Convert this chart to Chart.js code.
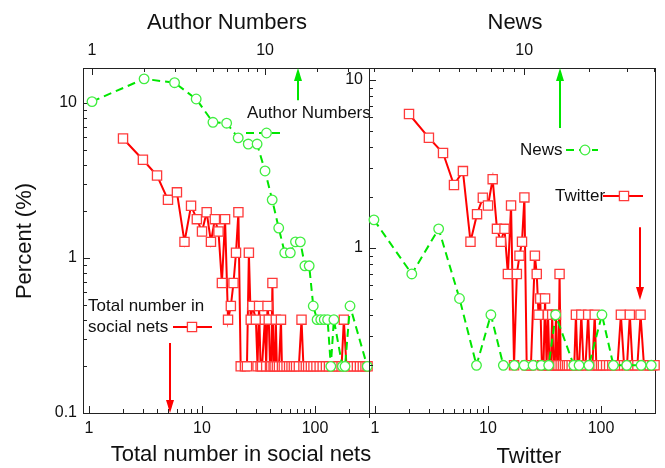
<!DOCTYPE html>
<html><head><meta charset="utf-8">
<script src="https://cdn.jsdelivr.net/npm/chart.js@4/dist/chart.umd.min.js"></script>
<style>
html,body{margin:0;padding:0;background:#fff;}
#wrap{position:relative;width:665px;height:468px;overflow:hidden;}
canvas{position:absolute;left:0;top:0;}
</style></head><body>
<div id="wrap"><canvas id="cL" width="665" height="468"></canvas><canvas id="cR" width="665" height="468"></canvas></div>
<script>
// ---------- data (percent) ----------
// Left panel: Total number in social nets (bottom axis)
const totalX = [2,3,4,5,6,7,8,9,10,11,12,13,14,15,16,17,18,19,20,21,22,24,25,26,27,28,30,31,32,33,34,36,37,38,39,40,41,42,43,44,45,46,48,50,51,53,56,59,62,65,68,72,76,79,83,87,92,97,103,110,117,125,133,142,152,162,172,180,190,205,220,235,250,265,280,292];
const totalY = [5.9,4.3,3.4,2.37,2.65,1.27,2.17,1.78,1.48,1.97,1.27,1.78,1.48,0.69,1.78,0.40,0.49,0.69,1.08,1.97,0.2,0.2,0.2,1.08,0.4,0.49,0.4,0.2,0.49,0.2,0.2,0.4,0.2,0.49,0.4,0.2,0.2,0.69,0.2,0.2,0.4,0.2,0.2,0.4,0.2,0.2,0.2,0.2,0.2,0.2,0.2,0.2,0.4,0.2,0.2,0.2,0.2,0.2,0.2,0.2,0.2,0.2,0.2,0.2,0.2,0.2,0.2,0.4,0.2,0.2,0.2,0.2,0.2,0.2,0.2,0.2];
// Left panel: Author Numbers (top axis)
const authorX = [1,2,3,4,5,6,7,8,9,10,11,12,13,14,15,16,17,18,19,20,21,22,23,24,25,28,29,31,39];
const authorY = [10.2,14.3,13.5,10.6,7.5,7.4,5.95,5.43,5.43,3.64,2.37,1.56,1.08,1.08,1.27,1.27,0.89,0.89,0.49,0.4,0.4,0.4,0.4,0.2,0.4,0.2,0.2,0.49,0.2];
// Right panel: Twitter (bottom axis)
const twitterX = [2,3,4,5,6,7,8,9,10,11,12,13,14,15,16,17,18,19,20,21,22,23,24,26,27,28,29,30,31,32,33,34,35,36,37,38,39,40,41,42,43,44,46,48,50,52,55,58,60,62,64,67,70,73,77,80,84,88,91,95,100,104,111,118,126,133,140,150,160,170,180,190,200,210,224,240,255,270,285,298];
const twitterY = [6.28,4.53,3.68,2.37,2.87,1.09,1.59,1.99,1.79,2.57,1.3,1.09,1.3,0.70,1.79,0.2,0.70,0.9,1.09,2.0,0.2,0.2,0.2,0.9,0.70,0.4,0.5,0.2,0.2,0.5,0.2,0.4,0.2,0.2,0.4,0.2,0.2,0.4,0.2,0.2,0.70,0.2,0.2,0.2,0.2,0.2,0.2,0.2,0.4,0.2,0.2,0.4,0.2,0.2,0.4,0.2,0.2,0.4,0.2,0.2,0.2,0.2,0.2,0.2,0.2,0.2,0.2,0.4,0.2,0.2,0.4,0.2,0.2,0.2,0.4,0.2,0.2,0.2,0.2,0.2];
// Right panel: News (top axis)
const newsX = [2,3,4,5,6,7,8,9,10,11,12,13,14,17,18,20,23,26,30,35,39];
const newsY = [1.47,0.70,1.30,0.50,0.2,0.4,0.2,0.2,0.2,0.2,0.2,0.2,0.4,0.2,0.2,0.2,0.4,0.2,0.2,0.2,0.2];

// ---------- axes / tick labels ----------
const majorLabels = [0.1, 1, 10, 100];
const bottomTicks = [1,2,3,4,5,6,7,8,9,10,20,30,40,50,60,70,80,90,100,200];
const topLeftTicks = [1,2,3,4,5,6,7,8,9,10,20,30];
const topRightTicks = [2,3,4,5,6,7,8,9,10,20,30,40];
const leftYTicks = [0.1,0.2,0.3,0.4,0.5,0.6,0.7,0.8,0.9,1,2,3,4,5,6,7,8,9,10];
const rightYTicks = [0.2,0.3,0.4,0.5,0.6,0.7,0.8,0.9,1,2,3,4,5,6,7,8,9,10];

// arrows: [x value, tail y value, tip y value]
const authorArrow = [15.5, 10.4, 16.8];
const totalArrow = [5.2, 0.283, 0.1];
const newsArrow = [14.7, 5.18, 11.8];
const twitterArrow = [221, 1.33, 0.49];

const FONT = '"Liberation Sans", Arial, sans-serif';
const RED = '#ff0000', GREEN = '#00e600';
const toPts = (xs, ys) => xs.map((x, i) => ({x: x, y: ys[i]}));

function logScale(pos, min, max, tickList, size) {
  const horiz = pos === 'top' || pos === 'bottom';
  return {
    type: 'logarithmic', position: pos, min: min, max: max,
    afterBuildTicks: s => { s.ticks = tickList.map(v => ({value: v})); },
    afterFit: s => { if (horiz) s.height = size; else s.width = size; },
    grid: {display: false, drawTicks: false},
    border: {display: false},
    ticks: {
      autoSkip: false, maxRotation: 0, minRotation: 0,
      padding: pos === 'top' ? 8 : 6,
      color: '#111', font: {family: FONT, size: 16},
      callback: v => majorLabels.includes(v) ? String(v) : ''
    }
  };
}

function lineDs(label, pts, xAxis, color, ptColor, style, dash) {
  return {
    label: label, data: pts, xAxisID: xAxis, yAxisID: 'y',
    borderColor: color, borderWidth: 2, borderDash: dash,
    pointStyle: style, pointRadius: style === 'rect' ? 6.5 : 4.8,
    pointBorderColor: ptColor, pointBackgroundColor: '#fff', pointBorderWidth: 1.3,
    tension: 0, fill: false, clip: false
  };
}

function arrow(ctx, x, y1, y2, color) {
  const dir = y2 < y1 ? -1 : 1, hl = 13, hw = 4;
  ctx.save();
  ctx.strokeStyle = color; ctx.fillStyle = color; ctx.lineWidth = 2;
  ctx.beginPath(); ctx.moveTo(x, y1); ctx.lineTo(x, y2 - dir * hl); ctx.stroke();
  ctx.beginPath(); ctx.moveTo(x, y2); ctx.lineTo(x - hw, y2 - dir * hl); ctx.lineTo(x + hw, y2 - dir * hl); ctx.closePath(); ctx.fill();
  ctx.restore();
}

function sample(ctx, x1, x2, y, cx, color, ptColor, style, dash) {
  ctx.save();
  ctx.strokeStyle = color; ctx.lineWidth = 2; ctx.setLineDash(dash);
  ctx.beginPath(); ctx.moveTo(x1, y); ctx.lineTo(x2, y); ctx.stroke();
  ctx.setLineDash([]);
  ctx.fillStyle = '#fff'; ctx.strokeStyle = ptColor; ctx.lineWidth = 1.3;
  ctx.beginPath();
  if (style === 'rect') ctx.rect(cx - 4.6, y - 4.6, 9.2, 9.2); else ctx.arc(cx, y, 4.8, 0, Math.PI * 2);
  ctx.fill(); ctx.stroke();
  ctx.restore();
}

const deco = {
  id: 'deco',
  beforeDatasetsDraw(chart) {
    const {ctx, chartArea: a} = chart;
    const o = chart.options.plugins.deco;
    ctx.save();
    ctx.strokeStyle = '#222'; ctx.lineWidth = 1;
    ctx.strokeRect(Math.round(a.left) + 0.5, Math.round(a.top) + 0.5, Math.round(a.right - a.left), Math.round(a.bottom - a.top));
    if (o.extendLeft) {
      ctx.beginPath(); ctx.moveTo(Math.round(a.left) + 0.5, a.bottom); ctx.lineTo(Math.round(a.left) + 0.5, a.bottom + 5); ctx.stroke();
    }
    for (const s of Object.values(chart.scales)) {
      for (const t of s.ticks) {
        const len = majorLabels.includes(t.value) ? 7 : 4;
        const p = Math.round(s.getPixelForValue(t.value)) + 0.5;
        ctx.beginPath();
        if (s.position === 'bottom') { ctx.moveTo(p, a.bottom); ctx.lineTo(p, a.bottom - len); }
        else if (s.position === 'top') { ctx.moveTo(p, a.top); ctx.lineTo(p, a.top + len); }
        else { ctx.moveTo(a.left, p); ctx.lineTo(a.left + len, p); }
        ctx.stroke();
      }
    }
    ctx.restore();
  },
  afterDraw(chart) {
    const {ctx} = chart;
    const o = chart.options.plugins.deco;
    const sx = chart.scales.x, sx2 = chart.scales.x2, sy = chart.scales.y;
    ctx.save();
    ctx.fillStyle = '#111'; ctx.textBaseline = 'middle';
    ctx.font = '22px ' + FONT; ctx.textAlign = 'center';
    ctx.fillText(o.topTitle[0], o.topTitle[1], o.topTitle[2]);
    ctx.fillText(o.bottomTitle[0], o.bottomTitle[1], o.bottomTitle[2]);
    if (o.yTitle) {
      ctx.save(); ctx.translate(o.yTitle[1], o.yTitle[2]); ctx.rotate(-Math.PI / 2);
      ctx.fillText(o.yTitle[0], 0, 0); ctx.restore();
    }
    ctx.font = '17px ' + FONT; ctx.textAlign = 'left';
    for (const t of o.texts) ctx.fillText(t[0], t[1], t[2]);
    ctx.restore();
    for (const s of o.samples) sample(ctx, ...s);
    const ga = o.greenArrow, ra = o.redArrow;
    arrow(ctx, Math.round(sx2.getPixelForValue(ga[0])), sy.getPixelForValue(ga[1]), sy.getPixelForValue(ga[2]), GREEN);
    arrow(ctx, Math.round(sx.getPixelForValue(ra[0])), sy.getPixelForValue(ra[1]), sy.getPixelForValue(ra[2]), RED);
  }
};

function makeChart(id, cfg) {
  return new Chart(document.getElementById(id), {
    type: 'line',
    data: {datasets: cfg.datasets},
    options: {
      responsive: false, animation: false, events: [],
      layout: {padding: {left: 0, top: 0, right: cfg.padRight, bottom: 0}},
      scales: {
        x: logScale('bottom', cfg.xMin, cfg.xMax, bottomTicks, 55),
        x2: logScale('top', cfg.x2Min, cfg.x2Max, cfg.topTicks, 68),
        y: logScale('left', cfg.yMin, cfg.yMax, cfg.yTicks, cfg.yWidth)
      },
      plugins: {legend: {display: false}, tooltip: {enabled: false}, title: {display: false}, deco: cfg.deco}
    },
    plugins: [deco]
  });
}

makeChart('cL', {
  padRight: 296, yWidth: 83,
  xMin: 0.885, xMax: 300.6, x2Min: 0.887, x2Max: 39.9, yMin: 0.1, yMax: 16.8,
  topTicks: topLeftTicks, yTicks: leftYTicks,
  datasets: [
    lineDs('Author Numbers', toPts(authorX, authorY), 'x2', GREEN, '#40ee40', 'circle', [8, 5]),
    lineDs('Total number in social nets', toPts(totalX, totalY), 'x', RED, '#ff3a3a', 'rect', [])
  ],
  deco: {
    extendLeft: false,
    topTitle: ['Author Numbers', 227, 23],
    bottomTitle: ['Total number in social nets', 241, 455],
    yTitle: ['Percent (%)', 25, 241],
    texts: [['Author Numbers', 247, 113], ['Total number in', 88, 306], ['social nets', 88, 327]],
    samples: [[246, 281, 133, 266.5, GREEN, '#40ee40', 'circle', [8, 5]], [173, 212, 327, 192, RED, '#ff3a3a', 'rect', []]],
    greenArrow: authorArrow, redArrow: totalArrow
  }
});

makeChart('cR', {
  padRight: 10, yWidth: 369,
  xMin: 0.885, xMax: 300.6, x2Min: 1.897, x2Max: 40.6, yMin: 0.104, yMax: 11.8,
  topTicks: topRightTicks, yTicks: rightYTicks,
  datasets: [
    lineDs('News', toPts(newsX, newsY), 'x2', GREEN, '#40ee40', 'circle', [8, 5]),
    lineDs('Twitter', toPts(twitterX, twitterY), 'x', RED, '#ff3a3a', 'rect', [])
  ],
  deco: {
    extendLeft: true,
    topTitle: ['News', 515, 23],
    bottomTitle: ['Twitter', 529, 457],
    yTitle: null,
    texts: [['News', 520, 150], ['Twitter', 555, 196]],
    samples: [[566, 598, 150, 585, GREEN, '#40ee40', 'circle', [8, 5]], [603, 643, 196, 624, RED, '#ff3a3a', 'rect', []]],
    greenArrow: newsArrow, redArrow: twitterArrow
  }
});
</script>
</body></html>
